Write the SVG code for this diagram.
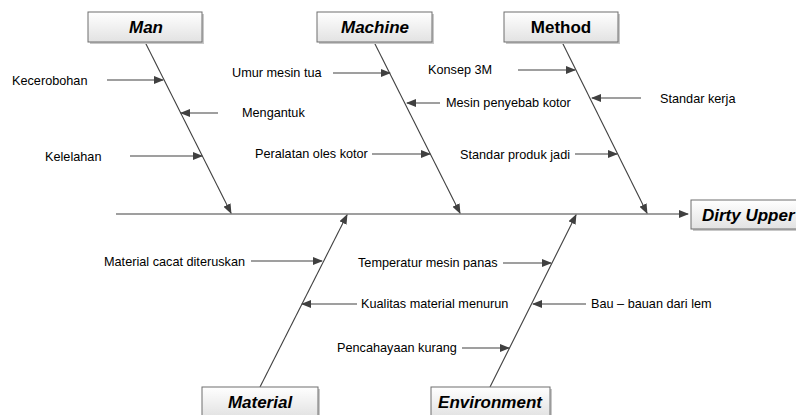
<svg xmlns="http://www.w3.org/2000/svg" width="796" height="415" viewBox="0 0 796 415">
<defs>
<linearGradient id="g" x1="0" y1="0" x2="0" y2="1">
<stop offset="0" stop-color="#ffffff"/>
<stop offset="1" stop-color="#e2e2e2"/>
</linearGradient>
<marker id="ah" markerWidth="10" markerHeight="8" refX="9" refY="4" orient="auto" markerUnits="userSpaceOnUse">
<path d="M0,0 L10,4 L0,8 Z" fill="#404040"/>
</marker>
<style>
.ln{stroke:#404040;stroke-width:1.1;fill:none}
.ar{stroke:#404040;stroke-width:1.1;fill:none;marker-end:url(#ah)}
.box{fill:url(#g);stroke:#6e6e6e;stroke-width:1}
.sh{fill:#c8c8c8}
.lb{font-family:"Liberation Sans",Arial,sans-serif;font-size:12.7px;fill:#000}
.hd{font-family:"Liberation Sans",Arial,sans-serif;font-size:17px;font-weight:bold;font-style:italic;fill:#000;text-anchor:middle}
</style>
</defs>
<rect width="796" height="415" fill="#fff"/>
<g id="connectors">
<line class="ar" x1="116" y1="214" x2="688" y2="214"/>
<line class="ar" x1="145" y1="42" x2="231" y2="213"/>
<line class="ar" x1="374" y1="42" x2="460" y2="213"/>
<line class="ar" x1="562" y1="42" x2="647" y2="213"/>
<line class="ar" x1="260" y1="387" x2="347" y2="215"/>
<line class="ar" x1="490" y1="387" x2="576" y2="215"/>
<line class="ar" x1="107" y1="80" x2="163" y2="80"/>
<line class="ar" x1="218" y1="113" x2="181" y2="113"/>
<line class="ar" x1="130" y1="156" x2="202" y2="156"/>
<line class="ar" x1="333" y1="73" x2="390" y2="73"/>
<line class="ar" x1="440" y1="103" x2="407" y2="103"/>
<line class="ar" x1="372" y1="154" x2="430" y2="154"/>
<line class="ar" x1="518" y1="70" x2="575" y2="70"/>
<line class="ar" x1="641" y1="98" x2="592" y2="98"/>
<line class="ar" x1="575" y1="154" x2="617" y2="154"/>
<line class="ar" x1="251" y1="261" x2="322" y2="261"/>
<line class="ar" x1="357" y1="304" x2="302" y2="304"/>
<line class="ar" x1="462" y1="348" x2="509" y2="348"/>
<line class="ar" x1="503" y1="263" x2="551" y2="263"/>
<line class="ar" x1="586" y1="304" x2="533" y2="304"/>
</g>
<g id="man">
<rect class="sh" x="90" y="14" width="114" height="30"/>
<rect class="box" x="88" y="12" width="114" height="30"/>
<text class="hd" x="146" y="33">Man</text>
</g>
<g id="machine">
<rect class="sh" x="319" y="14" width="115" height="30"/>
<rect class="box" x="317" y="12" width="115" height="30"/>
<text class="hd" x="375" y="33">Machine</text>
</g>
<g id="method">
<rect class="sh" x="506" y="14" width="114" height="30"/>
<rect class="box" x="504" y="12" width="114" height="30"/>
<text class="hd" x="561" y="33" style="font-style:normal">Method</text>
</g>
<g id="dirty-upper">
<rect class="sh" x="693" y="202" width="110" height="29"/>
<rect class="box" x="691" y="200" width="110" height="29"/>
<text class="hd" x="702" y="221" style="text-anchor:start">Dirty Upper</text>
</g>
<g id="material">
<rect class="sh" x="204" y="389" width="116" height="30"/>
<rect class="box" x="202" y="387" width="116" height="30"/>
<text class="hd" x="260" y="408">Material</text>
</g>
<g id="environment">
<rect class="sh" x="433" y="389" width="119" height="30"/>
<rect class="box" x="431" y="387" width="119" height="30"/>
<text class="hd" x="490" y="408">Environment</text>
</g>
<g id="labels">
<text class="lb" x="12" y="85">Kecerobohan</text>
<text class="lb" x="242" y="117">Mengantuk</text>
<text class="lb" x="45" y="161">Kelelahan</text>
<text class="lb" x="232" y="77">Umur mesin tua</text>
<text class="lb" x="446" y="107">Mesin penyebab kotor</text>
<text class="lb" x="255" y="158">Peralatan oles kotor</text>
<text class="lb" x="428" y="74">Konsep 3M</text>
<text class="lb" x="660" y="103">Standar kerja</text>
<text class="lb" x="460" y="159">Standar produk jadi</text>
<text class="lb" x="104" y="266">Material cacat diteruskan</text>
<text class="lb" x="361" y="308">Kualitas material menurun</text>
<text class="lb" x="337" y="352">Pencahayaan kurang</text>
<text class="lb" x="358" y="267">Temperatur mesin panas</text>
<text class="lb" x="591" y="308">Bau – bauan dari lem</text>
</g>
</svg>
